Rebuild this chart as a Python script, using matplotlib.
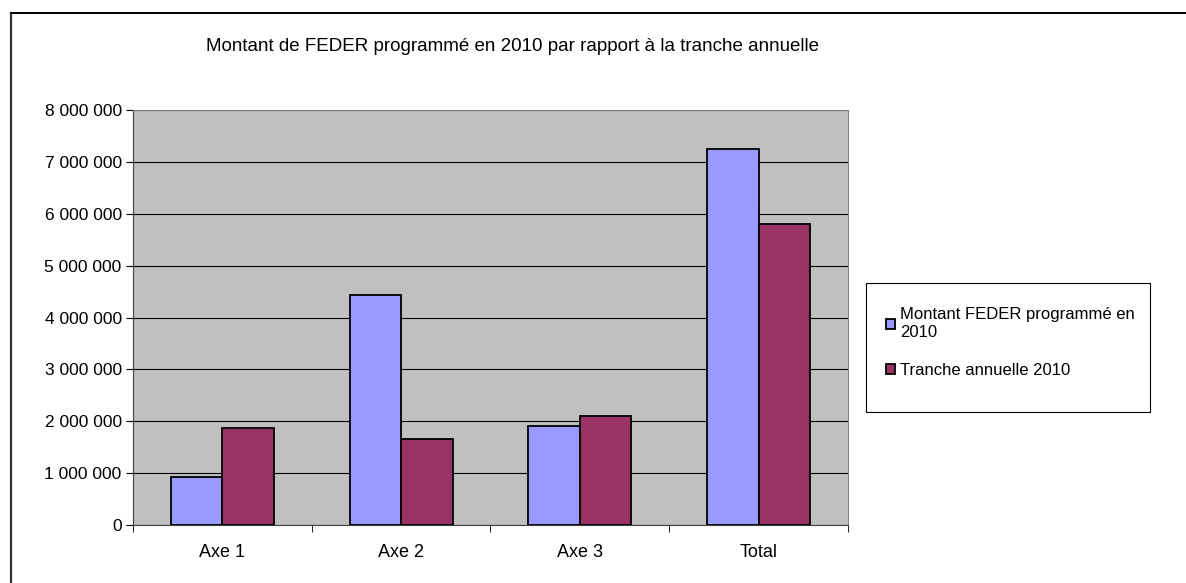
import numpy as np
import matplotlib.pyplot as plt
from matplotlib.lines import Line2D
from matplotlib.patches import Rectangle
from matplotlib.ticker import FuncFormatter

plt.rcParams['font.family'] = ['Liberation Sans', 'DejaVu Sans']

categories = ["Axe 1", "Axe 2", "Axe 3", "Total"]
montant_feder = [935000, 4430000, 1900000, 7250000]
tranche_annuelle = [1870000, 1660000, 2110000, 5800000]
series_labels = ["Montant FEDER programmé en\n2010", "Tranche annuelle 2010"]
title = "Montant de FEDER programmé en 2010 par rapport à la tranche annuelle"

fig = plt.figure(figsize=(11.86, 5.83), dpi=100)
ax = fig.add_axes([0.112, 0.0995, 0.603, 0.7115])

x = np.arange(len(categories))
w = 0.288
b1 = ax.bar(x - w / 2, montant_feder, w, color="#9999ff", edgecolor="black", linewidth=1.3, zorder=3)
b2 = ax.bar(x + w / 2, tranche_annuelle, w, color="#993366", edgecolor="black", linewidth=1.3, zorder=3)

ax.set_facecolor("#c0c0c0")
ax.set_xlim(-0.5, 3.5)
ax.set_ylim(0, 8000000)
ax.set_yticks(np.arange(0, 8000001, 1000000))
ax.yaxis.set_major_formatter(FuncFormatter(lambda v, p: f"{int(v):,}".replace(",", " ")))
ax.grid(axis="y", color="black", linewidth=0.8, zorder=1)
ax.set_xticks(x)
ax.set_xticklabels(categories)
ax.set_xticks(np.arange(-0.5, 4, 1), minor=True)
ax.tick_params(axis="x", which="major", length=0, pad=14, labelsize=13)
ax.tick_params(axis="x", which="minor", length=5, direction="out")
ax.tick_params(axis="y", length=5, direction="out", labelsize=12.5, pad=3)
for s in ["top", "right"]:
    ax.spines[s].set_color("#808080")
for s in ["left", "bottom"]:
    ax.spines[s].set_color("#404040")

fig.text(0.432, 0.92, title, ha="center", va="center", fontsize=13.5)

# legend box
fig.add_artist(Rectangle((0.730, 0.293), 0.240, 0.222, transform=fig.transFigure,
                         facecolor="white", edgecolor="black", linewidth=0.8))
leg = fig.legend([b1, b2], series_labels, loc="center left",
                 bbox_to_anchor=(0.740, 0.412), frameon=False, fontsize=12,
                 handlelength=0.55, handleheight=0.55, handletextpad=0.3,
                 borderpad=0.0, labelspacing=1.4)

# outer chart border (left and top only visible)
fig.add_artist(Line2D([0.0093, 0.0093], [0, 0.977], color="#333333", linewidth=1.6, transform=fig.transFigure))
fig.add_artist(Line2D([0.0093, 1.0], [0.977, 0.977], color="black", linewidth=1.4, transform=fig.transFigure))

fig.savefig("out.png", dpi=100)
